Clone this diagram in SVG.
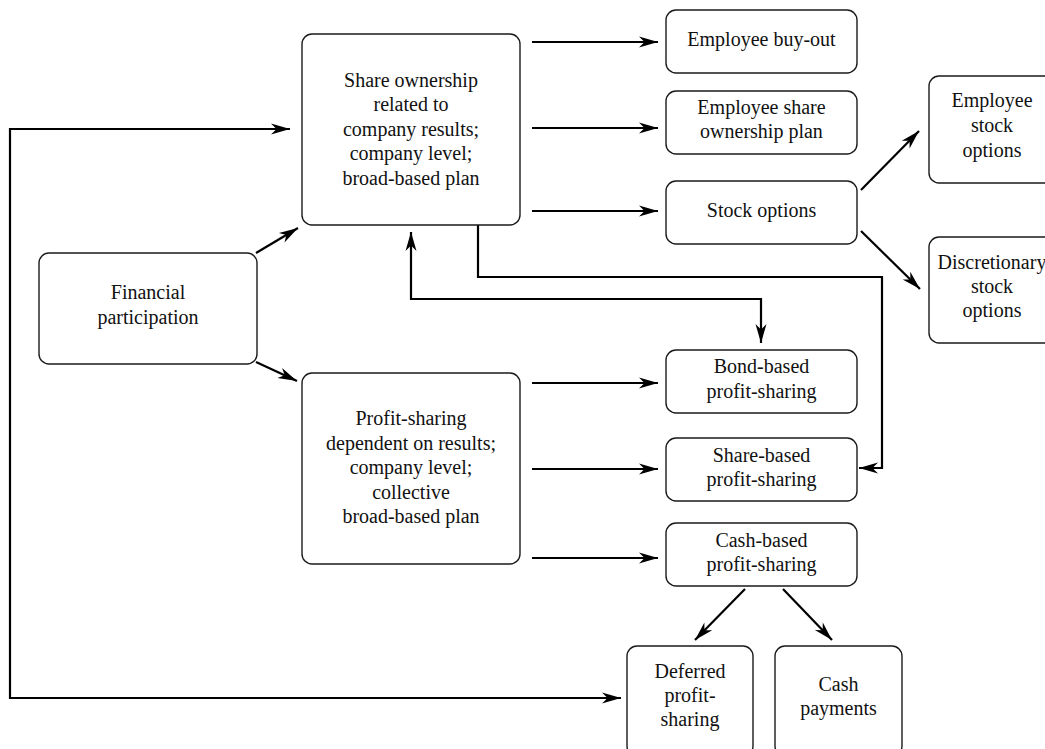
<svg xmlns="http://www.w3.org/2000/svg" width="1045" height="749" viewBox="0 0 1045 749">
<style>
  .box { fill: #ffffff; stroke: #1a1a1a; stroke-width: 1.4; }
  .lbl { font-family: "Liberation Serif", "Times New Roman", serif; font-size: 20px; fill: #111111; text-anchor: middle; }
  .con { fill: none; stroke: #000000; stroke-width: 2.2; }
</style>
<defs>
  <marker id="ah" markerUnits="userSpaceOnUse" markerWidth="22" markerHeight="14" viewBox="-20 -7 22 14" refX="0" refY="0" orient="auto-start-reverse">
    <path d="M0,0 L-19,-5.5 L-13.5,0 L-19,5.5 Z" fill="#000000"/>
  </marker>
</defs>
<rect width="1045" height="749" fill="#ffffff"/>

<g id="connectors">
  <path class="con" d="M290,129 H10 V698 H621" marker-start="url(#ah)" marker-end="url(#ah)"/>
  <line class="con" x1="256" y1="253" x2="298" y2="228" marker-end="url(#ah)"/>
  <line class="con" x1="256" y1="362" x2="297" y2="381" marker-end="url(#ah)"/>
  <line class="con" x1="532" y1="42" x2="658" y2="42" marker-end="url(#ah)"/>
  <line class="con" x1="532" y1="128" x2="658" y2="128" marker-end="url(#ah)"/>
  <line class="con" x1="532" y1="211" x2="658" y2="211" marker-end="url(#ah)"/>
  <line class="con" x1="861" y1="190" x2="919" y2="131" marker-end="url(#ah)"/>
  <line class="con" x1="861" y1="231" x2="920" y2="289" marker-end="url(#ah)"/>
  <path class="con" d="M478,225 V277 H882 V468 H859" marker-end="url(#ah)"/>
  <path class="con" d="M411,232 V299 H761 V343" marker-start="url(#ah)" marker-end="url(#ah)"/>
  <line class="con" x1="532" y1="383" x2="658" y2="383" marker-end="url(#ah)"/>
  <line class="con" x1="532" y1="469" x2="658" y2="469" marker-end="url(#ah)"/>
  <line class="con" x1="532" y1="558" x2="658" y2="558" marker-end="url(#ah)"/>
  <line class="con" x1="745" y1="589" x2="695" y2="640" marker-end="url(#ah)"/>
  <line class="con" x1="783" y1="589" x2="832" y2="640" marker-end="url(#ah)"/>
</g>

<g id="share-ownership">
  <rect class="box" x="302" y="34" width="218" height="191" rx="10"/>
  <text class="lbl" x="411" y="87">Share ownership</text>
  <text class="lbl" x="411" y="111">related to</text>
  <text class="lbl" x="411" y="135.5">company results;</text>
  <text class="lbl" x="411" y="160">company level;</text>
  <text class="lbl" x="411" y="184.5">broad-based plan</text>
</g>

<g id="financial-participation">
  <rect class="box" x="39" y="253" width="218" height="111" rx="10"/>
  <text class="lbl" x="148" y="299">Financial</text>
  <text class="lbl" x="148" y="323.5">participation</text>
</g>

<g id="profit-sharing">
  <rect class="box" x="302" y="373" width="218" height="191" rx="10"/>
  <text class="lbl" x="411" y="425">Profit-sharing</text>
  <text class="lbl" x="411" y="449.5">dependent on results;</text>
  <text class="lbl" x="411" y="474">company level;</text>
  <text class="lbl" x="411" y="498.5">collective</text>
  <text class="lbl" x="411" y="523">broad-based plan</text>
</g>

<g id="employee-buy-out">
  <rect class="box" x="666" y="10" width="191" height="63" rx="10"/>
  <text class="lbl" x="761.5" y="45.5">Employee buy-out</text>
</g>

<g id="employee-share-ownership-plan">
  <rect class="box" x="666" y="91" width="191" height="63" rx="10"/>
  <text class="lbl" x="761.5" y="114">Employee share</text>
  <text class="lbl" x="761.5" y="138">ownership plan</text>
</g>

<g id="stock-options">
  <rect class="box" x="666" y="181" width="191" height="63" rx="10"/>
  <text class="lbl" x="761.5" y="216.5">Stock options</text>
</g>

<g id="employee-stock-options">
  <rect class="box" x="929" y="76" width="126" height="107" rx="10"/>
  <text class="lbl" x="992" y="107">Employee</text>
  <text class="lbl" x="992" y="132">stock</text>
  <text class="lbl" x="992" y="156.5">options</text>
</g>

<g id="discretionary-stock-options">
  <rect class="box" x="929" y="237" width="126" height="106" rx="10"/>
  <text class="lbl" x="992" y="268.5">Discretionary</text>
  <text class="lbl" x="992" y="293">stock</text>
  <text class="lbl" x="992" y="317">options</text>
</g>

<g id="bond-based-profit-sharing">
  <rect class="box" x="666" y="350" width="191" height="63" rx="10"/>
  <text class="lbl" x="761.5" y="373">Bond-based</text>
  <text class="lbl" x="761.5" y="397.5">profit-sharing</text>
</g>

<g id="share-based-profit-sharing">
  <rect class="box" x="666" y="438" width="191" height="63" rx="10"/>
  <text class="lbl" x="761.5" y="462">Share-based</text>
  <text class="lbl" x="761.5" y="486">profit-sharing</text>
</g>

<g id="cash-based-profit-sharing">
  <rect class="box" x="666" y="523" width="191" height="63" rx="10"/>
  <text class="lbl" x="761.5" y="547">Cash-based</text>
  <text class="lbl" x="761.5" y="571">profit-sharing</text>
</g>

<g id="deferred-profit-sharing">
  <rect class="box" x="627" y="646" width="126" height="110" rx="10"/>
  <text class="lbl" x="690" y="678">Deferred</text>
  <text class="lbl" x="690" y="702">profit-</text>
  <text class="lbl" x="690" y="726">sharing</text>
</g>

<g id="cash-payments">
  <rect class="box" x="775" y="646" width="127" height="110" rx="10"/>
  <text class="lbl" x="838.5" y="691">Cash</text>
  <text class="lbl" x="838.5" y="715">payments</text>
</g>
</svg>
